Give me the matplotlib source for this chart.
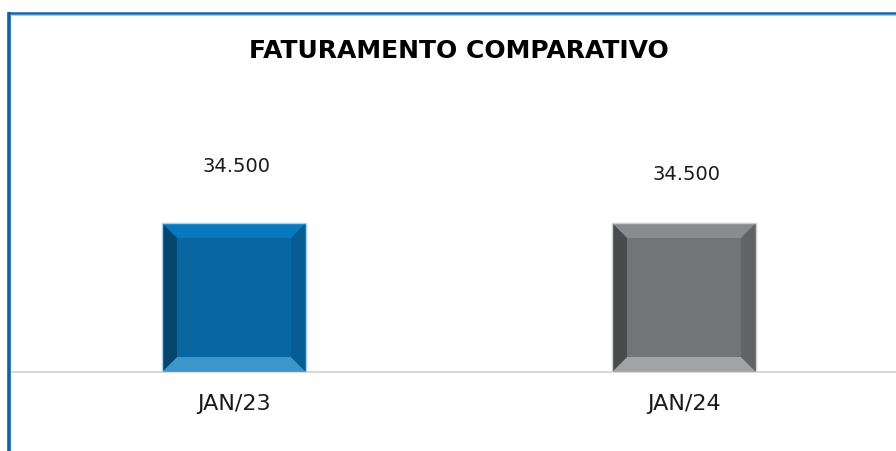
import matplotlib
matplotlib.use("Agg")
import matplotlib.pyplot as plt
from matplotlib.patches import Polygon
from matplotlib.lines import Line2D

categories = ["JAN/23", "JAN/24"]
values = [34500, 34500]
value_labels = ["34.500", "34.500"]
title = "FATURAMENTO COMPARATIVO"

# bevel shades per bar: face, top, bottom, left, right, outline
shades = [
    dict(face="#0867a0", top="#0879be", bottom="#3d95c9", left="#04466d", right="#055d94", edge="#a9d0ea"),
    dict(face="#737476", top="#8a8b8e", bottom="#a2a3a5", left="#4a4b4d", right="#626365", edge="#cfcfcf"),
]
label_offsets_px = [56, 48]

plt.rcParams["font.family"] = ["DejaVu Sans"]
W, H = 896, 451
fig = plt.figure(figsize=(W / 100, H / 100), dpi=100)
fig.patch.set_facecolor("white")

ax = fig.add_axes([9 / W, 79 / H, 900 / W, 272 / H])
ax.set_facecolor("none")
ymax = max(values) * 272 / 149
ax.set_xlim(-0.5, len(categories) - 0.5)
ax.set_ylim(0, ymax)

width = 0.32
bevel_px = 15
bx = bevel_px / (900 / len(categories))
by = bevel_px / (272 / ymax)

xs = list(range(len(categories)))
bars = ax.bar(xs, values, width=width, color=[s["face"] for s in shades],
              edgecolor="none", zorder=2)
for rect, s in zip(bars, shades):
    x0 = rect.get_x(); x1 = x0 + rect.get_width()
    y0 = rect.get_y(); y1 = y0 + rect.get_height()
    polys = {
        "top": [(x0, y1), (x1, y1), (x1 - bx, y1 - by), (x0 + bx, y1 - by)],
        "bottom": [(x0, y0), (x1, y0), (x1 - bx, y0 + by), (x0 + bx, y0 + by)],
        "left": [(x0, y0), (x0, y1), (x0 + bx, y1 - by), (x0 + bx, y0 + by)],
        "right": [(x1, y0), (x1, y1), (x1 - bx, y1 - by), (x1 - bx, y0 + by)],
    }
    for k, pts in polys.items():
        ax.add_patch(Polygon(pts, closed=True, facecolor=s[k], edgecolor="none", zorder=3))
    ax.add_patch(plt.Rectangle((x0, y0), x1 - x0, y1 - y0, facecolor="none",
                               edgecolor=s["edge"], linewidth=1.0, zorder=4))

for rect, lab, off in zip(bars, value_labels, label_offsets_px):
    ax.annotate(lab, (rect.get_x() + rect.get_width() / 2, rect.get_height()),
                xytext=(2, off * 0.72), textcoords="offset points",
                ha="center", va="center", fontsize=14, color="#1a1a1a")

for sp in ["top", "right", "left"]:
    ax.spines[sp].set_visible(False)
ax.spines["bottom"].set_color("#d9d9d9")
ax.spines["bottom"].set_linewidth(1.5)
ax.set_yticks([])
ax.set_xticks(xs)
ax.set_xticklabels(categories, fontsize=16, color="#1a1a1a")
ax.tick_params(axis="x", length=0, pad=16)

fig.text(459 / W, 1 - 51 / H, title, ha="center", va="center",
         fontsize=18, fontweight="bold", color="black")

# frame border (left and top)
fig.add_artist(Line2D([9 / W, 9 / W], [0, 1 - 12 / H], transform=fig.transFigure,
                      color="#0a64a0", linewidth=2.6, solid_capstyle="butt"))
fig.add_artist(Line2D([7.5 / W, 1], [1 - 13 / H, 1 - 13 / H], transform=fig.transFigure,
                      color="#0a64a0", linewidth=1.8, solid_capstyle="butt"))
fig.add_artist(Line2D([11 / W, 1], [1 - 14.8 / H, 1 - 14.8 / H], transform=fig.transFigure,
                      color="#a3cbe8", linewidth=0.8, solid_capstyle="butt"))

fig.savefig("out.png", dpi=100, facecolor="white")
